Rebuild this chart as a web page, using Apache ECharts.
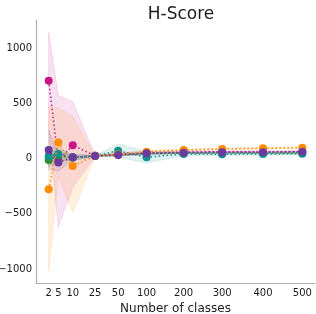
<!DOCTYPE html>
<html>
<head>
<meta charset="utf-8">
<script src="https://cdn.jsdelivr.net/npm/echarts@6/dist/echarts.min.js"></script>
<style>html,body{margin:0;padding:0;background:#fff}#c{width:316px;height:314px}</style>
</head>
<body>
<div id="c"></div>
<script>
// ---- data ----
const classes = [2, 5, 10, 25, 50, 100, 200, 300, 400, 500];

const magentaMean = [705, -20, 122, 25, 38, 50, 60, 62, 62, 62];
const magentaLow  = [270, -620, -260, 20, 25, 35, 50, 52, 52, 52];
const magentaHigh = [1140, 570, 515, 30, 50, 65, 70, 72, 72, 72];

const greenMean = [-12, 22, 10, 25, 35, 45, 50, 50, 50, 52];
const greenLow  = [-80, -30, -5, 20, 25, 35, 42, 42, 42, 44];
const greenHigh = [55, 75, 25, 30, 45, 55, 58, 58, 58, 60];

const tealMean = [24, 42, 10, 25, 72, 12, 42, 40, 42, 44];
const tealLow  = [-60, -20, -15, 20, 15, -40, 28, 30, 32, 34];
const tealHigh = [110, 100, 35, 30, 130, 65, 56, 50, 52, 54];

const orangeMean = [-277, 145, -66, 25, 38, 63, 79, 88, 94, 99];
const orangeLow  = [-1020, -165, -490, 20, 25, 50, 70, 80, 86, 90];
const orangeHigh = [470, 460, 380, 30, 50, 75, 88, 96, 102, 108];

const purpleMean = [79, -36, 13, 24, 33, 49, 54, 58, 58, 63];
const purpleLow  = [-100, -115, -20, 20, 25, 40, 48, 52, 52, 56];
const purpleHigh = [260, 45, 45, 28, 40, 58, 60, 64, 64, 70];

const yTicks = [-1000, -500, 0, 500, 1000];

// ---- custom x scale (non-uniform spacing of the class axis) ----
const classScale = [0, 0.038, 0.095, 0.183, 0.274, 0.386, 0.532, 0.684, 0.845, 1];
function xs(v) { return classScale[classes.indexOf(v)]; }

const seriesDefs = [
  {name: 'magenta', color: '#c8168a', mean: magentaMean, lo: magentaLow, hi: magentaHigh},
  {name: 'green',   color: '#2e8b2e', mean: greenMean,   lo: greenLow,   hi: greenHigh},
  {name: 'teal',    color: '#0e918c', mean: tealMean,    lo: tealLow,    hi: tealHigh},
  {name: 'orange',  color: '#ff8c00', mean: orangeMean,  lo: orangeLow,  hi: orangeHigh},
  {name: 'purple',  color: '#6c3a9e', mean: purpleMean,  lo: purpleLow,  hi: purpleHigh}
];

const series = [];
seriesDefs.forEach(function (d, k) {
  series.push({
    type: 'custom',
    z: 1,
    silent: true,
    data: [[0, 0]],
    renderItem: function (params, api) {
      const pts = [];
      classes.forEach(function (c, i) { pts.push(api.coord([xs(c), d.hi[i]])); });
      for (let i = classes.length - 1; i >= 0; i--) pts.push(api.coord([xs(classes[i]), d.lo[i]]));
      return {
        type: 'polygon',
        shape: {points: pts},
        style: {fill: d.color, opacity: 0.13, stroke: d.color, lineWidth: 1}
      };
    }
  });
});
seriesDefs.forEach(function (d, k) {
  series.push({
    type: 'line',
    z: 3 + k,
    data: classes.map(function (c, i) { return [xs(c), d.mean[i]]; }),
    symbol: 'circle',
    symbolSize: 8,
    showSymbol: true,
    itemStyle: {color: d.color},
    lineStyle: {color: d.color, width: 1.5, type: [1.5, 2.5]},
    animation: false
  });
});

const font = 'DejaVu Sans';
const chart = echarts.init(document.getElementById('c'), null, {renderer: 'canvas'});
chart.setOption({
  animation: false,
  title: {
    text: 'H-Score', left: 176, top: 1, textAlign: 'center',
    textStyle: {fontFamily: font, fontSize: 17, fontWeight: 'normal', color: '#1a1a1a'}
  },
  grid: {left: 36, right: 1, top: 20, bottom: 31, containLabel: false, outerBoundsMode: 'none'},
  xAxis: {
    type: 'value', min: -0.05, max: 1.05,
    name: 'Number of classes', nameLocation: 'middle', nameGap: 19,
    nameTextStyle: {fontFamily: font, fontSize: 12, color: '#1a1a1a'},
    axisLine: {show: true, onZero: false, lineStyle: {color: '#b0b0b0', width: 1.2}},
    axisTick: {show: false},
    splitLine: {show: false},
    axisLabel: {
      customValues: classScale,
      fontFamily: font, fontSize: 10, color: '#1a1a1a', margin: 5,
      formatter: function (v) {
        let best = 0;
        classScale.forEach(function (s, i) { if (Math.abs(s - v) < Math.abs(classScale[best] - v)) best = i; });
        return String(classes[best]);
      }
    }
  },
  yAxis: {
    type: 'value', min: -1127, max: 1256,
    axisLine: {show: true, onZero: false, lineStyle: {color: '#b0b0b0', width: 1.2}},
    axisTick: {show: false},
    splitLine: {show: false},
    axisLabel: {
      customValues: yTicks,
      fontFamily: font, fontSize: 10, color: '#1a1a1a', margin: 4,
      formatter: function (v) { return v < 0 ? '\u2212' + Math.abs(v) : String(v); }
    }
  },
  series: series
});
</script>
</body>
</html>
